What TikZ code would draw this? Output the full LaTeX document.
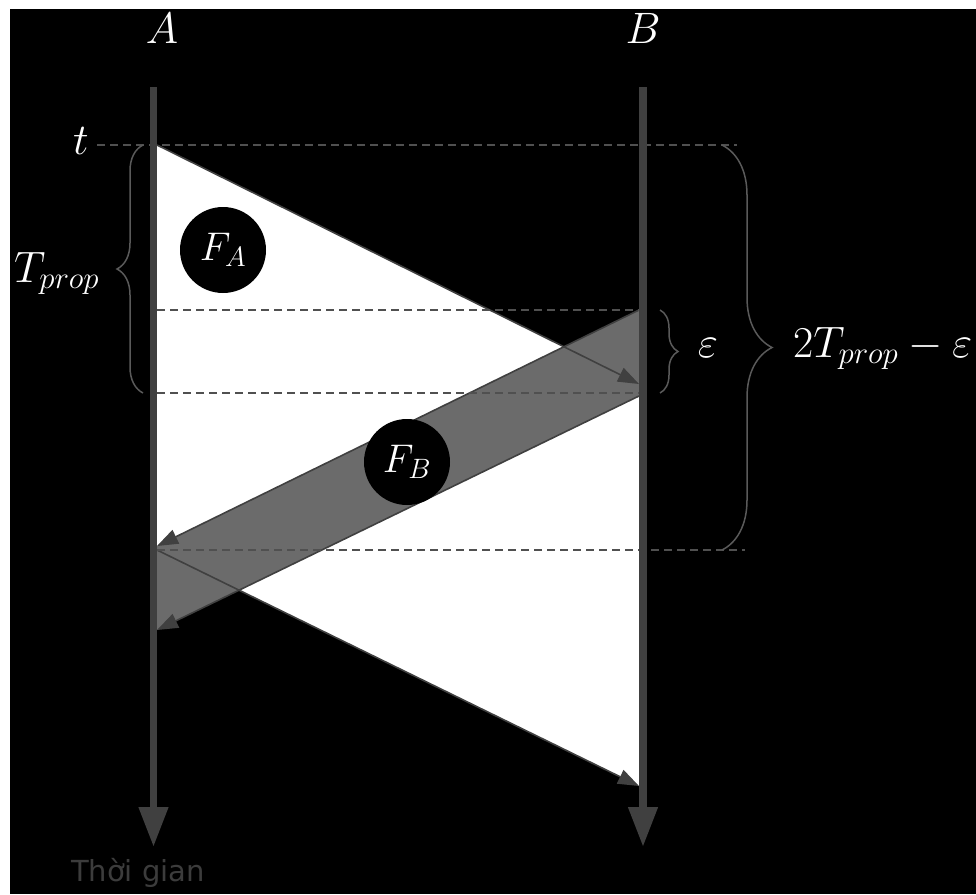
\documentclass[tikz,border=0pt]{standalone}
\usepackage{fix-cm}
\usepackage{fontspec}
\newfontfamily\captionfont{DejaVu Sans}
\usetikzlibrary{arrows.meta,decorations.pathreplacing}
\definecolor{axisgray}{RGB}{64,64,64}
\definecolor{bandgray}{RGB}{107,107,107}
\definecolor{dashgray}{RGB}{80,80,80}
\definecolor{bracegray}{RGB}{90,90,90}
\definecolor{captiongray}{RGB}{60,60,60}
\tikzset{
  timeline/.style={line width=7.5pt,draw=axisgray,-{Triangle[length=40pt,width=28pt]}},
  frameedge/.style={line width=1.6pt,draw=axisgray,-{Triangle[length=21pt,width=15pt]}},
  guide/.style={line width=2pt,draw=dashgray,dash pattern=on 8pt off 5pt},
  bracket/.style={decorate,decoration={brace,amplitude=#1},line width=1.5pt,draw=bracegray},
  lbl/.style={text=white,inner sep=0pt,font=\fontsize{44}{50}\selectfont},
  tag/.style={circle,fill=black,minimum size=86pt,inner sep=0pt,text=white,font=\fontsize{40}{46}\selectfont}
}
\begin{document}
\begin{tikzpicture}[x=1pt,y=-1pt]
  \useasboundingbox (0,0) rectangle (976,894);
  \fill[white] (0,0) rectangle (976,894);
  \fill[black] (10,9) rectangle (976,894);
  % time axes
  \coordinate (A0) at (153.5,87);
  \coordinate (A1) at (153.5,847);
  \coordinate (B0) at (643,87);
  \coordinate (B1) at (643,847);
  % frame corners
  \coordinate (fa1) at (157,145);
  \coordinate (fa2) at (639,384);
  \coordinate (fa3) at (157,550);
  \coordinate (fa4) at (639,786);
  \coordinate (fb1) at (639,310);
  \coordinate (fb2) at (157,546);
  \coordinate (fb3) at (639,396);
  \coordinate (fb4) at (157,630);
  \fill[white] (fa1) -- (fa2) -- (fa4) -- (fa3) -- cycle;
  \fill[bandgray] (fb1) -- (fb2) -- (fb4) -- (fb3) -- cycle;
  \draw[frameedge] (fa1) -- (fa2);
  \draw[frameedge] (fa3) -- (fa4);
  \draw[frameedge] (fb1) -- (fb2);
  \draw[frameedge] (fb3) -- (fb4);
  % guides
  \draw[guide] (97,145) -- (737,145);
  \draw[guide] (157,310) -- (639,310);
  \draw[guide] (157,393) -- (639,393);
  \draw[guide] (157,550) -- (745,550);
  \draw[timeline] (A0) -- (A1);
  \draw[timeline] (B0) -- (B1);
  % braces
  \draw[bracket=26pt] (143,393) -- (143,145);
  \draw[bracket=18pt] (660,310) -- (660,393);
  \draw[bracket=50pt] (722,145) -- (722,550);
  % labels
  \node[lbl] (labA) at (162,28) {$A$};
  \node[lbl] (labB) at (643,28) {$B$};
  \node[lbl] (labt) at (81,141) {$t$};
  \node[lbl,anchor=base west] (labTp) at (14,282) {$T_{prop}$};
  \node[lbl,anchor=base] (labe) at (708,357) {$\varepsilon$};
  \node[lbl,anchor=base west] (lab2T) at (793,357) {$2T_{prop}-\varepsilon$};
  \node[tag] (FA) at (223,250) {$F_A$};
  \node[tag] (FB) at (407,462) {$F_B$};
  \node[text=captiongray,inner sep=0pt,font=\captionfont\fontsize{29}{34}\selectfont] (time) at (138,873) {Thời gian};
\end{tikzpicture}
\end{document}
